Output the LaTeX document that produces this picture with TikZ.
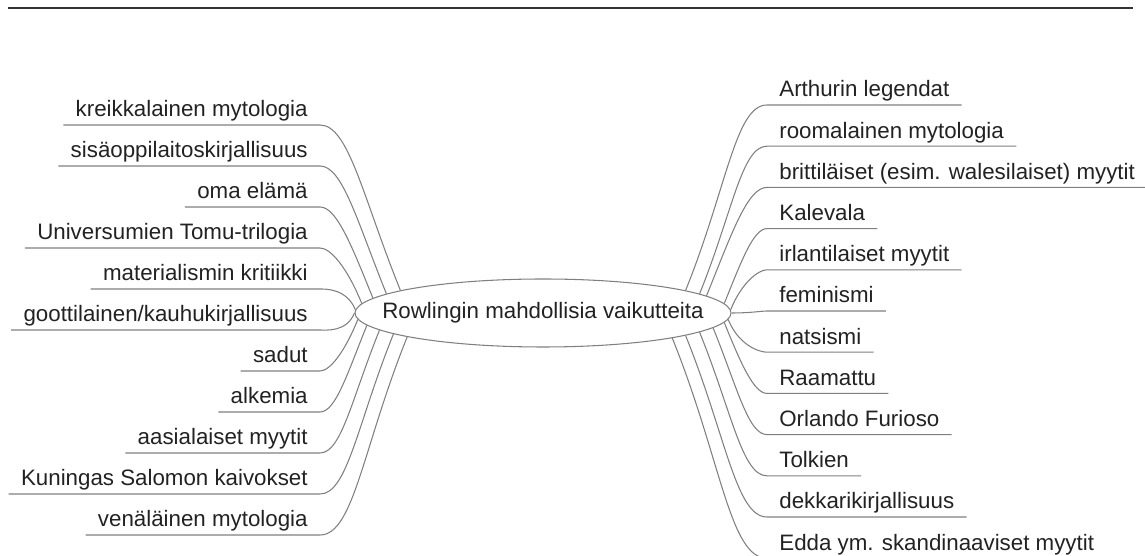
\documentclass[tikz,border=0pt]{standalone}
\usepackage{fontspec}
\setmainfont{Liberation Sans}
\usetikzlibrary{shapes.geometric}
\definecolor{linegray}{HTML}{7F7F7F}
\definecolor{textgray}{HTML}{222222}
\tikzset{
  topic/.style={ellipse, draw=linegray, line width=0.6pt, minimum width=7.52cm, minimum height=1.36cm, inner sep=0pt},
  leaf/.style={inner xsep=0.24cm, inner ysep=0.155cm, text depth=0pt},
  branch/.style={line width=0.6pt, color=linegray},
  every node/.append style={font=\fontsize{12.7}{15}\selectfont, text=textgray}
}

\begin{document}
\begin{tikzpicture}
\useasboundingbox (0,0) rectangle (22.9,11.12);
\draw[line width=1pt, black!80] (0.16,10.96) -- (22.66,10.96);
\node[topic] (root) at (10.86,4.86) {};
\node (roottext) at (root.center) {Rowlingin mahdollisia vaikutteita};
\foreach \txt/\anc [count=\i] in {kreikkalainen mytologia/171, sisäoppilaitoskirjallisuus/173, oma elämä/175, Universumien Tomu-trilogia/177, materialismin kritiikki/179, {goottilainen/kauhukirjallisuus}/180, sadut/182, alkemia/184, aasialaiset myytit/186, Kuningas Salomon kaivokset/188, venäläinen mytologia/190} {
  \node[leaf, anchor=south east] (left\i) at (6.4,{8.62-0.82*(\i-1)}) {\txt};
  \pgfmathsetmacro{\inang}{\i<6 ? 112 : 248}
  \draw[branch] (left\i.south west) -- (left\i.south east) to[out=0, in=\inang, out looseness=0.4, in looseness=1.4] (root.\anc);
}
\foreach \txt/\anc [count=\j] in {Arthurin legendat/9, roomalainen mytologia/7, brittiläiset (esim. walesilaiset) myytit/6, Kalevala/3, irlantilaiset myytit/1, feminismi/0, natsismi/358, Raamattu/357, Orlando Furioso/355, Tolkien/353, dekkarikirjallisuus/351, Edda ym. skandinaaviset myytit/349} {
  \node[leaf, anchor=south west] (right\j) at (15.34,{9.02-0.824*(\j-1)}) {\txt};
  \pgfmathsetmacro{\outang}{\j<6 ? 68 : (\j>6 ? -68 : 0)}
  \draw[branch] (root.\anc) to[out=\outang, in=180, out looseness=1.4, in looseness=0.4] (right\j.south west) -- (right\j.south east);
}
\end{tikzpicture}
\end{document}
